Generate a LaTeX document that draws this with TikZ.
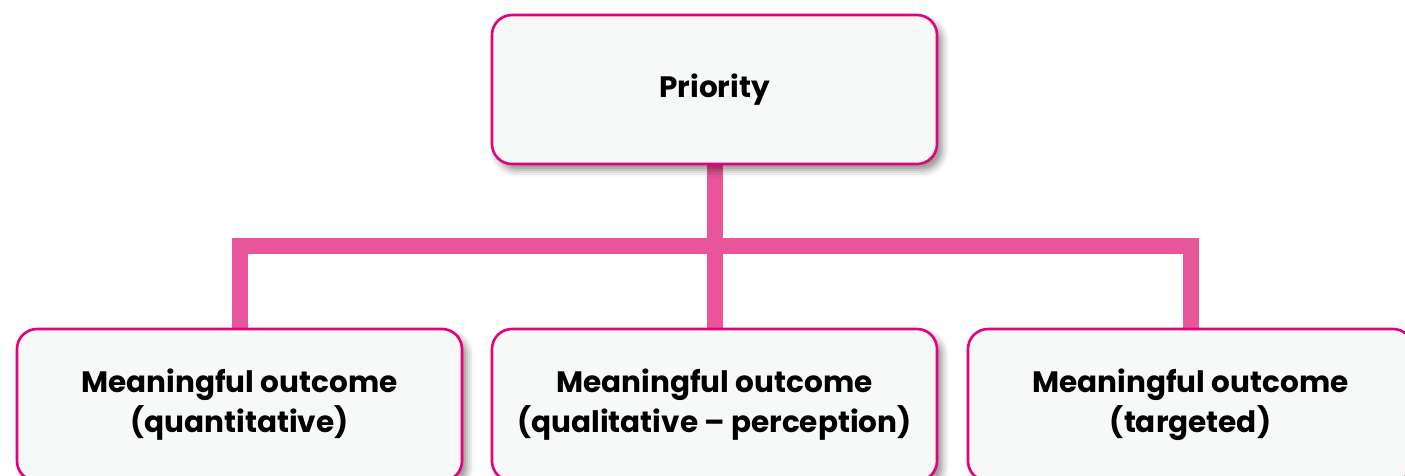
\documentclass[tikz,border=0pt]{standalone}
\usepackage{fontspec}
\setmainfont{Poppins}
\usetikzlibrary{shadows.blur,backgrounds}
\definecolor{boxline}{HTML}{E5007D}
\definecolor{boxfill}{HTML}{F7F9F8}
\definecolor{conn}{HTML}{E8559A}
\tikzset{
  box/.style={draw=boxline, line width=2.6pt, fill=boxfill, rounded corners=20pt,
    minimum width=445pt, minimum height=149pt, inner sep=0pt, align=center,
    font=\fontsize{29.5}{40}\selectfont\bfseries,
    blur shadow={shadow xshift=5pt, shadow yshift=-6pt, shadow blur radius=7pt, shadow opacity=45}},
  link/.style={draw=conn, line width=16pt, line join=miter}
}
\begin{document}
\begin{tikzpicture}[x=1pt,y=1pt]
\clip (0,0) rectangle (1405,-475);
\node[box] (top) at (714.5,-89.5) {Priority};
\node[box, minimum height=152pt] (left) at (239.5,-405) {Meaningful outcome\\(quantitative)};
\node[box, minimum height=152pt] (mid) at (714.5,-405) {Meaningful outcome\\(qualitative – perception)};
\node[box, minimum height=152pt] (right) at (1190.5,-405) {Meaningful outcome\\(targeted)};
\coordinate (j) at (714.5,-246);
\begin{scope}[on background layer]
\draw[link] (left.north) |- (j) -| (right.north);
\draw[link] (top.south) -- (mid.north);
\end{scope}
\end{tikzpicture}
\end{document}
